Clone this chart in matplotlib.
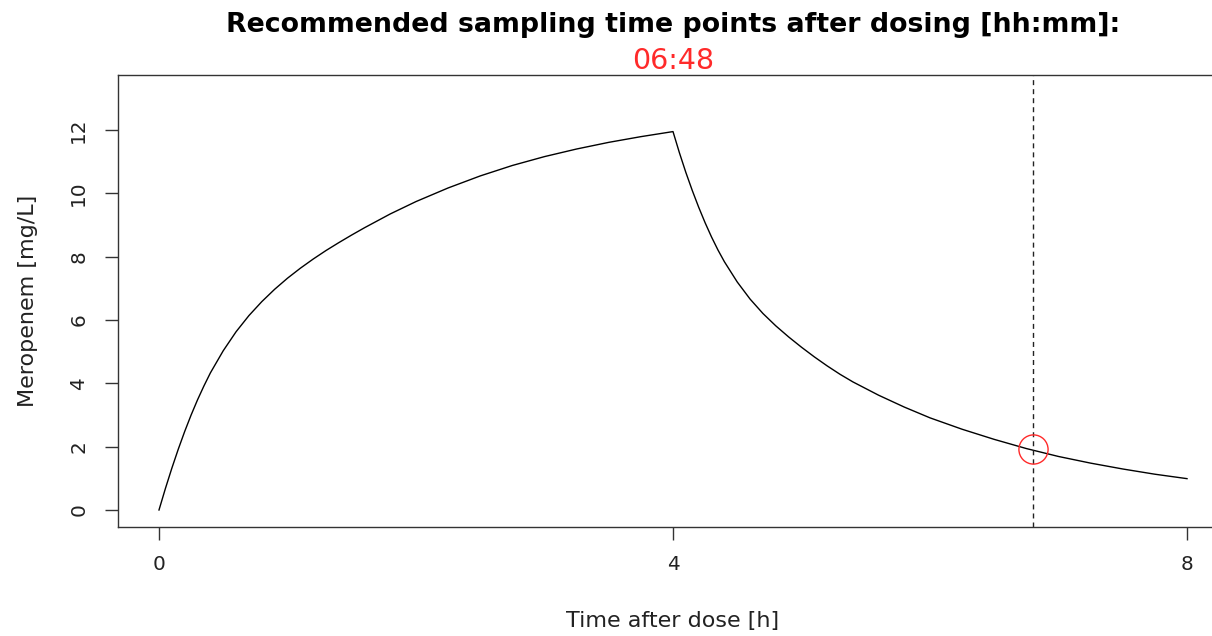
import matplotlib
matplotlib.use("Agg")
import matplotlib.pyplot as plt

# Data
time_h = [0.0, 0.05, 0.1, 0.15, 0.2, 0.25, 0.3, 0.35, 0.4, 0.5, 0.6, 0.7, 0.8, 0.9,
          1.0, 1.1, 1.2, 1.3, 1.4, 1.5, 1.6, 1.8, 2.0, 2.25, 2.5, 2.75, 3.0, 3.25,
          3.5, 3.75, 4.0,
          4.05, 4.1, 4.15, 4.2, 4.25, 4.3, 4.35, 4.4, 4.5, 4.6, 4.7, 4.8, 4.9, 5.0,
          5.1, 5.2, 5.3, 5.4, 5.6, 5.8, 6.0, 6.25, 6.5, 6.75, 7.0, 7.25, 7.5, 7.75, 8.0]
conc_mgL = [0.0, 0.68, 1.32, 1.92, 2.48, 3.0, 3.48, 3.92, 4.33, 5.03, 5.63, 6.14, 6.58, 6.97,
            7.32, 7.635, 7.925, 8.195, 8.445, 8.685, 8.915, 9.35, 9.74, 10.17, 10.55, 10.88, 11.16, 11.40,
            11.61, 11.79, 11.95,
            11.28, 10.66, 10.09, 9.56, 9.07, 8.62, 8.21, 7.84, 7.20, 6.66, 6.205, 5.815, 5.465, 5.14,
            4.835, 4.55, 4.285, 4.045, 3.625, 3.25, 2.91, 2.55, 2.23, 1.94, 1.69, 1.48, 1.295, 1.13, 0.99]
sample_time = 6.8
sample_conc = 1.92
x_ticks = [0, 4, 8]
y_ticks = [0, 2, 4, 6, 8, 10, 12]
title_text = "Recommended sampling time points after dosing [hh:mm]:"
sample_label = "06:48"
x_label = "Time after dose [h]"
y_label = "Meropenem [mg/L]"

W, H = 1212, 636
fig = plt.figure(figsize=(W / 100, H / 100), dpi=100)
fig.patch.set_facecolor("white")

left, right, top, bottom = 118, 1228, 75, 527
ax = fig.add_axes([left / W, 1 - bottom / H, (right - left) / W, (bottom - top) / H])

ax.plot(time_h, conc_mgL, color="black", lw=1.0, solid_joinstyle="round")
ax.axvline(sample_time, color="#222222", lw=1.0, ls=(0, (3.6, 2.9)))
ax.plot([sample_time], [sample_conc], marker="o", ms=21, mfc="none",
        mec="#FF2A2A", mew=1.0, ls="none")

ax.set_xlim(-0.319, 8.319)
ax.set_ylim(-0.537, 13.737)

ax.set_xticks(x_ticks)
ax.set_xticklabels([str(t) for t in x_ticks])
ax.set_yticks(y_ticks)
ax.set_yticklabels([str(t) for t in y_ticks], rotation=90, va="center")

ax.tick_params(axis="both", direction="out", length=9.5, width=1.0, colors="#333333",
               labelsize=14.4, labelcolor="#222222")
ax.tick_params(axis="x", pad=11)
ax.tick_params(axis="y", pad=12)

for side in ["left", "top", "bottom", "right"]:
    ax.spines[side].set_linewidth(1.0)
    ax.spines[side].set_color("#333333")

ax.set_xlabel(x_label, fontsize=16, color="#222222", va="center", ha="center")
ax.xaxis.set_label_coords((673 - left) / (right - left), (bottom - 621) / (bottom - top))
ax.set_ylabel(y_label, fontsize=16, color="#222222", va="center", ha="center")
ax.yaxis.set_label_coords((28 - left) / (right - left), (bottom - 301) / (bottom - top))

fig.text(673 / W, 1 - 25 / H, title_text, ha="center", va="center",
         fontsize=19.3, fontweight="bold", color="black")
fig.text(673 / W, 1 - 61 / H, sample_label, ha="center", va="center",
         fontsize=20.5, color="#FF2A2A")

fig.savefig("out.png", dpi=100)
